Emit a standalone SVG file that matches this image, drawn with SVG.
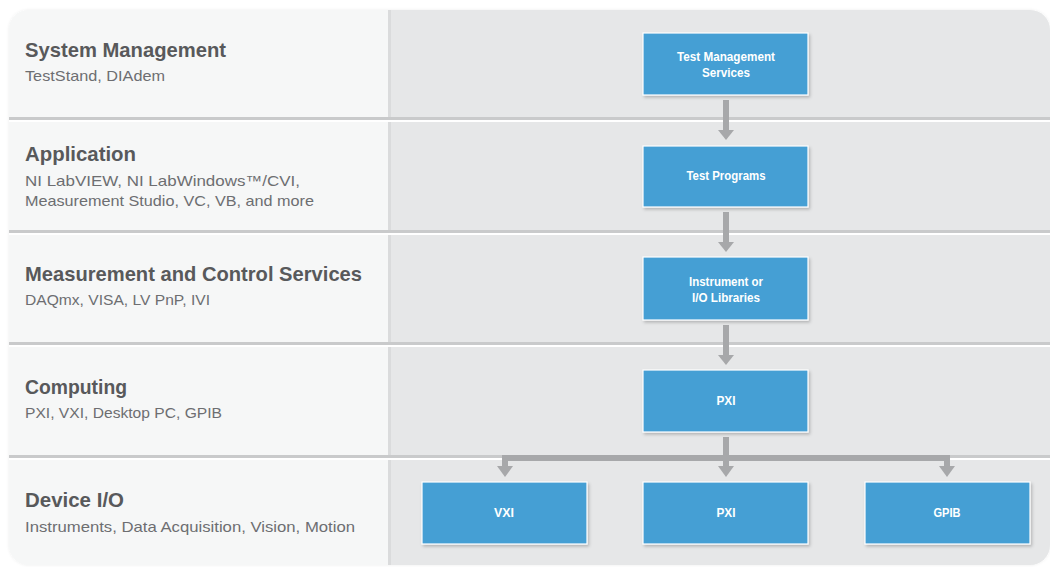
<svg xmlns="http://www.w3.org/2000/svg" width="1050" height="567" viewBox="0 0 1050 567">
<style>
.title{font-family:"Liberation Sans",Arial,sans-serif;font-weight:bold;font-size:21px;fill:#58595b}
.sub{font-family:"Liberation Sans",Arial,sans-serif;font-size:15px;fill:#6d6e71}
.box{fill:#449fd4;stroke:#ffffff;stroke-width:1.2;filter:url(#sh)}
.bt{font-family:"Liberation Sans",Arial,sans-serif;font-weight:bold;font-size:12px;fill:#ffffff;text-anchor:middle}
.conn{fill:#a7a8aa}
</style>
<defs>
<clipPath id="panel"><rect x="9" y="10" width="1041" height="555" rx="20" ry="20"/></clipPath>
<filter id="sh" x="-10%" y="-10%" width="130%" height="140%">
<feDropShadow dx="1.5" dy="2" stdDeviation="1.5" flood-color="#000000" flood-opacity="0.22"/>
</filter>
<filter id="outer" x="-5%" y="-5%" width="110%" height="110%">
<feDropShadow dx="0" dy="0" stdDeviation="1.5" flood-color="#000000" flood-opacity="0.08"/>
</filter>
</defs>
<rect width="1050" height="567" fill="#ffffff"/>
<g id="background">
<rect x="9" y="10" width="1041" height="555" rx="20" ry="20" fill="#f6f7f7" filter="url(#outer)"/>
<g clip-path="url(#panel)">
<rect x="9" y="10" width="379" height="555" fill="#f6f7f7"/>
<rect x="388" y="10" width="3" height="555" fill="#dadbdc"/>
<rect x="391" y="10" width="670" height="555" fill="#e6e7e8"/>
<rect x="9" y="117" width="1041" height="3" fill="#c9cacb"/>
<rect x="9" y="120" width="1041" height="2" fill="#ffffff"/>
<rect x="9" y="230" width="1041" height="3" fill="#c9cacb"/>
<rect x="9" y="233" width="1041" height="2" fill="#ffffff"/>
<rect x="9" y="342" width="1041" height="3" fill="#c9cacb"/>
<rect x="9" y="345" width="1041" height="2" fill="#ffffff"/>
<rect x="9" y="455" width="1041" height="3" fill="#c9cacb"/>
<rect x="9" y="458" width="1041" height="2" fill="#ffffff"/>
</g>
</g>
<g id="layer-system-management">
<text class="title" x="25" y="57" textLength="201" lengthAdjust="spacingAndGlyphs">System Management</text>
<text class="sub" x="25" y="81" textLength="140" lengthAdjust="spacingAndGlyphs">TestStand, DIAdem</text>
</g>
<g id="layer-application">
<text class="title" x="25" y="161" textLength="111" lengthAdjust="spacingAndGlyphs">Application</text>
<text class="sub" x="25" y="186" textLength="275" lengthAdjust="spacingAndGlyphs">NI LabVIEW, NI LabWindows™/CVI,</text>
<text class="sub" x="25" y="206" textLength="289" lengthAdjust="spacingAndGlyphs">Measurement Studio, VC, VB, and more</text>
</g>
<g id="layer-measurement">
<text class="title" x="25" y="281" textLength="337" lengthAdjust="spacingAndGlyphs">Measurement and Control Services</text>
<text class="sub" x="25" y="305" textLength="185" lengthAdjust="spacingAndGlyphs">DAQmx, VISA, LV PnP, IVI</text>
</g>
<g id="layer-computing">
<text class="title" x="25" y="394" textLength="102" lengthAdjust="spacingAndGlyphs">Computing</text>
<text class="sub" x="25" y="418" textLength="197" lengthAdjust="spacingAndGlyphs">PXI, VXI, Desktop PC, GPIB</text>
</g>
<g id="layer-device-io">
<text class="title" x="25" y="507" textLength="99" lengthAdjust="spacingAndGlyphs">Device I/O</text>
<text class="sub" x="25" y="532" textLength="330" lengthAdjust="spacingAndGlyphs">Instruments, Data Acquisition, Vision, Motion</text>
</g>
<g id="connectors">
<rect class="conn" x="723" y="100" width="6" height="31"/>
<polygon class="conn" points="718,130 734,130 726,140"/>
<rect class="conn" x="723" y="212" width="6" height="31"/>
<polygon class="conn" points="718,242 734,242 726,252"/>
<rect class="conn" x="723" y="325" width="6" height="31"/>
<polygon class="conn" points="718,355 734,355 726,365"/>
<rect class="conn" x="723" y="437" width="6" height="30"/>
<rect class="conn" x="502" y="455" width="448" height="6"/>
<rect class="conn" x="502" y="455" width="6" height="12"/>
<polygon class="conn" points="497,466 513,466 505,477"/>
<polygon class="conn" points="718,466 734,466 726,477"/>
<rect class="conn" x="944" y="455" width="6" height="12"/>
<polygon class="conn" points="939,466 955,466 947,477"/>
</g>
<g id="node-test-management">
<rect class="box" x="643" y="33" width="165" height="62"/>
<text class="bt" x="726" y="61" textLength="98" lengthAdjust="spacingAndGlyphs">Test Management</text>
<text class="bt" x="726" y="77" textLength="48" lengthAdjust="spacingAndGlyphs">Services</text>
</g>
<g id="node-test-programs">
<rect class="box" x="643" y="146" width="165" height="61"/>
<text class="bt" x="726" y="180" textLength="79" lengthAdjust="spacingAndGlyphs">Test Programs</text>
</g>
<g id="node-libraries">
<rect class="box" x="643" y="257" width="165" height="63"/>
<text class="bt" x="726" y="286" textLength="74" lengthAdjust="spacingAndGlyphs">Instrument or</text>
<text class="bt" x="726" y="302" textLength="68" lengthAdjust="spacingAndGlyphs">I/O Libraries</text>
</g>
<g id="node-pxi-computing">
<rect class="box" x="643" y="370" width="165" height="62"/>
<text class="bt" x="726" y="405" textLength="19" lengthAdjust="spacingAndGlyphs">PXI</text>
</g>
<g id="node-vxi">
<rect class="box" x="422" y="482" width="165" height="62"/>
<text class="bt" x="504" y="517" textLength="20" lengthAdjust="spacingAndGlyphs">VXI</text>
</g>
<g id="node-pxi-device">
<rect class="box" x="643" y="482" width="165" height="62"/>
<text class="bt" x="726" y="517" textLength="19" lengthAdjust="spacingAndGlyphs">PXI</text>
</g>
<g id="node-gpib">
<rect class="box" x="865" y="482" width="165" height="62"/>
<text class="bt" x="947" y="517" textLength="27" lengthAdjust="spacingAndGlyphs">GPIB</text>
</g>
</svg>
